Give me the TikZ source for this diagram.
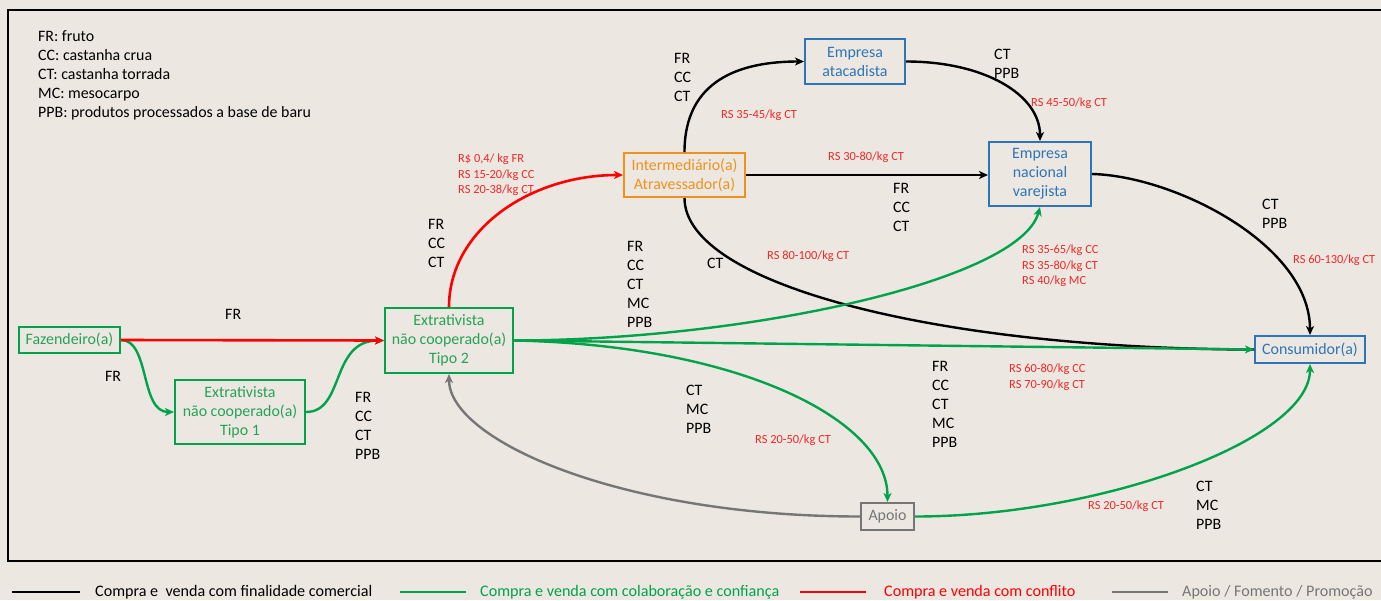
\documentclass[tikz,border=0pt]{standalone}
\usepackage{fontspec}
\setmainfont{Carlito}
\usetikzlibrary{arrows.meta}
\definecolor{paper}{RGB}{236,232,225}
\definecolor{gline}{RGB}{0,163,75}
\definecolor{gtext}{RGB}{36,162,88}
\definecolor{btext}{RGB}{46,117,182}
\definecolor{otext}{RGB}{240,145,30}
\definecolor{rline}{RGB}{255,0,0}
\definecolor{rtext}{RGB}{240,40,40}
\definecolor{gyline}{RGB}{118,118,118}
\begin{document}
\begin{tikzpicture}[x=1pt,y=-1pt,
  box/.style={draw, line width=2pt, inner sep=0pt, align=center,
    font=\fontsize{15.9}{19}\selectfont},
  greenbox/.style={box, draw=gline, text=gtext},
  bluebox/.style={box, draw=btext, text=btext},
  orangebox/.style={box, draw=otext, text=otext},
  greybox/.style={box, draw=gyline, text=gyline},
  tip/.style={-{Stealth[length=9pt,width=8pt,inset=2.5pt]}},
  commercial/.style={draw=black, line width=2.4pt},
  trust/.style={draw=gline, line width=2.4pt},
  conflict/.style={draw=rline, line width=2.6pt},
  support/.style={draw=gyline, line width=2.4pt},
  goods/.style={anchor=north west, inner sep=0pt, align=left,
    font=\fontsize{15.9}{19}\selectfont},
  price/.style={anchor=north west, inner sep=0pt, align=left, text=rtext,
    font=\fontsize{12.4}{15.5}\selectfont},
  keytext/.style={anchor=west, inner sep=0pt, font=\fontsize{16.1}{19}\selectfont}]

% page and frame
\useasboundingbox (0,0) rectangle (1381,600);
\fill[paper] (0,0) rectangle (1381,600);
\draw[line width=2pt] (8,10) rectangle (1400,561);

% abbreviations
\node[goods] (abbr) at (38,30) {FR: fruto\\CC: castanha crua\\CT: castanha torrada\\MC: mesocarpo\\PPB: produtos processados a base de baru};

% actors
\node[greenbox, minimum width=101pt, minimum height=26pt] (faz) at (69.5,340) {Fazendeiro(a)};
\node[greenbox, minimum width=130pt, minimum height=64pt] (t1) at (240,412) {Extrativista\\não cooperado(a)\\Tipo 1};
\node[greenbox, minimum width=128pt, minimum height=65pt] (t2) at (449,340.5) {Extrativista\\não cooperado(a)\\Tipo 2};
\node[orangebox, minimum width=121pt, minimum height=44pt] (int) at (684.5,175) {Intermediário(a)\\Atravessador(a)};
\node[bluebox, minimum width=100pt, minimum height=45pt] (ata) at (855,61.5) {Empresa\\atacadista};
\node[bluebox, minimum width=102pt, minimum height=64pt] (nac) at (1040,174) {Empresa\\nacional\\varejista};
\node[bluebox, minimum width=110pt, minimum height=27pt] (cons) at (1310,349.5) {Consumidor(a)};
\node[greybox, minimum width=53pt, minimum height=27pt] (apo) at (887.5,516.5) {Apoio};

% commercial trade
\draw[commercial] (int.south) .. controls (684.5,285) and (940,349) .. (cons.west);
\draw[commercial, tip] (int.north) .. controls (684.5,80) and (740,61.5) .. (ata.west);
\draw[commercial, tip] (int.east) -- (nac.west |- int.east);
\draw[commercial, tip] (ata.east) .. controls (985,61.5) and (1040,95) .. (nac.north);
\draw[commercial, tip] (nac.east) .. controls (1175,176) and (1310,245) .. (cons.north);

% support
\draw[support, tip] (apo.west) .. controls (620,516.5) and (449,440) .. (t2.south);

% trade with trust
\draw[trust, tip] (faz.east) .. controls (150,340) and (140,412) .. (t1.west);
\draw[trust, tip] (t1.east) .. controls (345,412) and (330,340.5) .. (t2.west);
\draw[trust, tip] (t2.east) .. controls (750,340) and (1020,280) .. (nac.south);
\draw[trust, tip] (t2.east) -- (cons.west);
\draw[trust, tip] (t2.east) .. controls (740,345) and (887.5,420) .. (apo.north);
\draw[trust, tip] (apo.east) .. controls (1100,516.5) and (1310,440) .. (cons.south);

% trade with conflict
\draw[conflict, tip] (faz.east) -- (t2.west);
\draw[conflict, tip] (t2.north) .. controls (449,230) and (530,175) .. (int.west);

% goods carried
\node[goods] (g1) at (225,309) {FR};
\node[goods] (g2) at (105,371) {FR};
\node[goods] (g3) at (355,392) {FR\\CC\\CT\\PPB};
\node[goods] (g4) at (428,219) {FR\\CC\\CT};
\node[goods] (g5) at (674,53) {FR\\CC\\CT};
\node[goods] (g6) at (994,49) {CT\\PPB};
\node[goods] (g7) at (627,241) {FR\\CC\\CT\\MC\\PPB};
\node[goods] (g8) at (707,258) {CT};
\node[goods] (g9) at (893,183) {FR\\CC\\CT};
\node[goods] (g10) at (1262,199) {CT\\PPB};
\node[goods] (g11) at (686,385) {CT\\MC\\PPB};
\node[goods] (g12) at (932,361) {FR\\CC\\CT\\MC\\PPB};
\node[goods] (g13) at (1196,481) {CT\\MC\\PPB};

% prices
\node[price] (p1) at (458,154) {R\$ 0,4/ kg FR\\RS 15-20/kg CC\\RS 20-38/kg CT};
\node[price] (p2) at (721,110) {RS 35-45/kg CT};
\node[price] (p3) at (828,152) {RS 30-80/kg CT};
\node[price] (p4) at (1031,98) {RS 45-50/kg CT};
\node[price] (p5) at (767,251) {RS 80-100/kg CT};
\node[price] (p6) at (1022,245) {RS 35-65/kg CC\\RS 35-80/kg CT\\RS 40/kg MC};
\node[price] (p7) at (1293,255) {RS 60-130/kg CT};
\node[price] (p8) at (1009,364) {RS 60-80/kg CC\\RS 70-90/kg CT};
\node[price] (p9) at (755,435) {RS 20-50/kg CT};
\node[price] (p10) at (1088,501) {RS 20-50/kg CT};

% line key
\coordinate (k1a) at (12,592); \coordinate (k1b) at (80,592);
\coordinate (k2a) at (400,592); \coordinate (k2b) at (466,592);
\coordinate (k3a) at (800,592); \coordinate (k3b) at (866,592);
\coordinate (k4a) at (1112,592); \coordinate (k4b) at (1168,592);
\draw[commercial] (k1a) -- (k1b);
\draw[trust] (k2a) -- (k2b);
\draw[conflict] (k3a) -- (k3b);
\draw[support] (k4a) -- (k4b);
\node[keytext] (kt1) at (95,592) {Compra e\ \ venda com finalidade comercial};
\node[keytext, text=gline] (kt2) at (480,592) {Compra e venda com colaboração e confiança};
\node[keytext, text=rline] (kt3) at (884,592) {Compra e venda com conflito};
\node[keytext, text=gyline] (kt4) at (1182,592) {Apoio / Fomento / Promoção};
\end{tikzpicture}
\end{document}
